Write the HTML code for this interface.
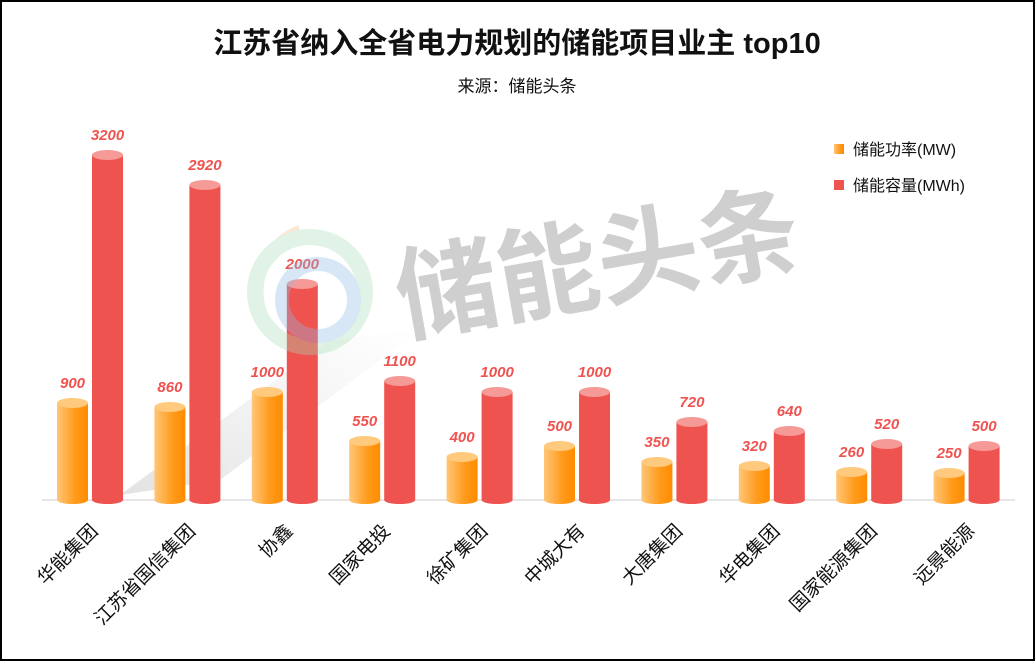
<!DOCTYPE html>
<html><head><meta charset="utf-8"><style>
html,body{margin:0;padding:0;background:#fff}
svg{display:block}
text{font-family:"Liberation Sans","Noto Sans CJK SC",sans-serif}
.v{font-size:15px;font-weight:bold;font-style:italic;fill:#ef5350;text-anchor:middle}
.l{font-size:19px;fill:#111;text-anchor:end}
.o{fill:url(#og)}.ot{fill:#ffc97e}.r{fill:#ef5350}.rt{fill:#f59a96}
</style></head><body>
<svg width="1035" height="661" viewBox="0 0 1035 661" xmlns="http://www.w3.org/2000/svg">
<defs>
<linearGradient id="og" x1="0" x2="1" y1="0" y2="0"><stop offset="0" stop-color="#ffc678"/><stop offset="0.6" stop-color="#ff9a1a"/><stop offset="1" stop-color="#ff8c00"/></linearGradient>
<linearGradient id="sh" x1="0" x2="1" y1="1" y2="0"><stop offset="0" stop-color="#bbb" stop-opacity="0.7"/><stop offset="1" stop-color="#ccc" stop-opacity="0"/></linearGradient>
</defs>
<rect x="1" y="1" width="1033" height="659" fill="#fff" stroke="#000" stroke-width="2"/>
<text x="517" y="53" text-anchor="middle" font-size="29" font-weight="bold" fill="#111">江苏省纳入全省电力规划的储能项目业主 top10</text>
<text x="517" y="92" text-anchor="middle" font-size="17" fill="#111">来源：储能头条</text>
<polygon points="120,495 330,340 420,330 220,480" fill="url(#sh)" opacity="0.6"/>
<text x="598" y="300" text-anchor="middle" font-size="102" font-weight="bold" fill="#cfcfcf" transform="rotate(-10 598 265)">储能头条</text>
<line x1="42" y1="500" x2="1015" y2="500" stroke="#ddd" stroke-width="1.5"/>

<g transform="translate(57,0)">
<rect class="o" x="0" y="403" width="31" height="97"/><ellipse class="o" cx="15.5" cy="500" rx="15.5" ry="4"/><ellipse class="ot" cx="15.5" cy="403" rx="15.5" ry="5"/><text class="v" x="15.5" y="388">900</text>
<rect class="r" x="35" y="155" width="31" height="345"/><ellipse class="r" cx="50.5" cy="500" rx="15.5" ry="4"/><ellipse class="rt" cx="50.5" cy="155" rx="15.5" ry="5"/><text class="v" x="50.5" y="140">3200</text>
<text class="l" x="42" y="532" transform="rotate(-45 42 532)">华能集团</text></g>

<g transform="translate(154.4,0)">
<rect class="o" x="0" y="407" width="31" height="93"/><ellipse class="o" cx="15.5" cy="500" rx="15.5" ry="4"/><ellipse class="ot" cx="15.5" cy="407" rx="15.5" ry="5"/><text class="v" x="15.5" y="392">860</text>
<rect class="r" x="35" y="185" width="31" height="315"/><ellipse class="r" cx="50.5" cy="500" rx="15.5" ry="4"/><ellipse class="rt" cx="50.5" cy="185" rx="15.5" ry="5"/><text class="v" x="50.5" y="170">2920</text>
<text class="l" x="42" y="532" transform="rotate(-45 42 532)">江苏省国信集团</text></g>

<g transform="translate(251.8,0)">
<rect class="o" x="0" y="392" width="31" height="108"/><ellipse class="o" cx="15.5" cy="500" rx="15.5" ry="4"/><ellipse class="ot" cx="15.5" cy="392" rx="15.5" ry="5"/><text class="v" x="15.5" y="377">1000</text>
<rect class="r" x="35" y="284" width="31" height="216"/><ellipse class="r" cx="50.5" cy="500" rx="15.5" ry="4"/><ellipse class="rt" cx="50.5" cy="284" rx="15.5" ry="5"/><text class="v" x="50.5" y="269">2000</text>
<text class="l" x="42" y="532" transform="rotate(-45 42 532)">协鑫</text></g>

<g transform="translate(349.2,0)">
<rect class="o" x="0" y="441" width="31" height="59"/><ellipse class="o" cx="15.5" cy="500" rx="15.5" ry="4"/><ellipse class="ot" cx="15.5" cy="441" rx="15.5" ry="5"/><text class="v" x="15.5" y="426">550</text>
<rect class="r" x="35" y="381" width="31" height="119"/><ellipse class="r" cx="50.5" cy="500" rx="15.5" ry="4"/><ellipse class="rt" cx="50.5" cy="381" rx="15.5" ry="5"/><text class="v" x="50.5" y="366">1100</text>
<text class="l" x="42" y="532" transform="rotate(-45 42 532)">国家电投</text></g>

<g transform="translate(446.6,0)">
<rect class="o" x="0" y="457" width="31" height="43"/><ellipse class="o" cx="15.5" cy="500" rx="15.5" ry="4"/><ellipse class="ot" cx="15.5" cy="457" rx="15.5" ry="5"/><text class="v" x="15.5" y="442">400</text>
<rect class="r" x="35" y="392" width="31" height="108"/><ellipse class="r" cx="50.5" cy="500" rx="15.5" ry="4"/><ellipse class="rt" cx="50.5" cy="392" rx="15.5" ry="5"/><text class="v" x="50.5" y="377">1000</text>
<text class="l" x="42" y="532" transform="rotate(-45 42 532)">徐矿集团</text></g>

<g transform="translate(544,0)">
<rect class="o" x="0" y="446" width="31" height="54"/><ellipse class="o" cx="15.5" cy="500" rx="15.5" ry="4"/><ellipse class="ot" cx="15.5" cy="446" rx="15.5" ry="5"/><text class="v" x="15.5" y="431">500</text>
<rect class="r" x="35" y="392" width="31" height="108"/><ellipse class="r" cx="50.5" cy="500" rx="15.5" ry="4"/><ellipse class="rt" cx="50.5" cy="392" rx="15.5" ry="5"/><text class="v" x="50.5" y="377">1000</text>
<text class="l" x="42" y="532" transform="rotate(-45 42 532)">中城大有</text></g>

<g transform="translate(641.4,0)">
<rect class="o" x="0" y="462" width="31" height="38"/><ellipse class="o" cx="15.5" cy="500" rx="15.5" ry="4"/><ellipse class="ot" cx="15.5" cy="462" rx="15.5" ry="5"/><text class="v" x="15.5" y="447">350</text>
<rect class="r" x="35" y="422" width="31" height="78"/><ellipse class="r" cx="50.5" cy="500" rx="15.5" ry="4"/><ellipse class="rt" cx="50.5" cy="422" rx="15.5" ry="5"/><text class="v" x="50.5" y="407">720</text>
<text class="l" x="42" y="532" transform="rotate(-45 42 532)">大唐集团</text></g>

<g transform="translate(738.8,0)">
<rect class="o" x="0" y="466" width="31" height="34"/><ellipse class="o" cx="15.5" cy="500" rx="15.5" ry="4"/><ellipse class="ot" cx="15.5" cy="466" rx="15.5" ry="5"/><text class="v" x="15.5" y="451">320</text>
<rect class="r" x="35" y="431" width="31" height="69"/><ellipse class="r" cx="50.5" cy="500" rx="15.5" ry="4"/><ellipse class="rt" cx="50.5" cy="431" rx="15.5" ry="5"/><text class="v" x="50.5" y="416">640</text>
<text class="l" x="42" y="532" transform="rotate(-45 42 532)">华电集团</text></g>

<g transform="translate(836.2,0)">
<rect class="o" x="0" y="472" width="31" height="28"/><ellipse class="o" cx="15.5" cy="500" rx="15.5" ry="4"/><ellipse class="ot" cx="15.5" cy="472" rx="15.5" ry="5"/><text class="v" x="15.5" y="457">260</text>
<rect class="r" x="35" y="444" width="31" height="56"/><ellipse class="r" cx="50.5" cy="500" rx="15.5" ry="4"/><ellipse class="rt" cx="50.5" cy="444" rx="15.5" ry="5"/><text class="v" x="50.5" y="429">520</text>
<text class="l" x="42" y="532" transform="rotate(-45 42 532)">国家能源集团</text></g>

<g transform="translate(933.6,0)">
<rect class="o" x="0" y="473" width="31" height="27"/><ellipse class="o" cx="15.5" cy="500" rx="15.5" ry="4"/><ellipse class="ot" cx="15.5" cy="473" rx="15.5" ry="5"/><text class="v" x="15.5" y="458">250</text>
<rect class="r" x="35" y="446" width="31" height="54"/><ellipse class="r" cx="50.5" cy="500" rx="15.5" ry="4"/><ellipse class="rt" cx="50.5" cy="446" rx="15.5" ry="5"/><text class="v" x="50.5" y="431">500</text>
<text class="l" x="42" y="532" transform="rotate(-45 42 532)">远景能源</text></g>

<g opacity="0.35">
<path d="M300,230 A60,65 0 0 0 270,330" stroke="#f9b88a" stroke-width="10" fill="none"/>
<circle cx="310" cy="292" r="55" stroke="#a7dfb8" stroke-width="16" fill="none"/>
<circle cx="318" cy="300" r="36" stroke="#8fbbe6" stroke-width="14" fill="none"/>
</g>
<rect x="834" y="144" width="10" height="10" fill="url(#og)"/>
<text x="853" y="155" font-size="16" fill="#111">储能功率(MW)</text>
<rect x="834" y="180" width="10" height="10" fill="#ef5350"/>
<text x="853" y="191" font-size="16" fill="#111">储能容量(MWh)</text>
</svg>
</body></html>
